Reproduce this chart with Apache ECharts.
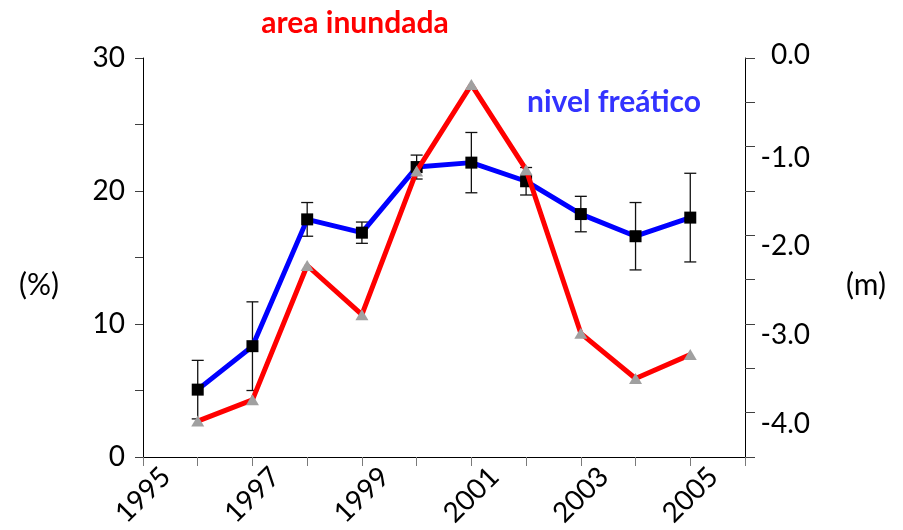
<!DOCTYPE html>
<html>
<head>
<meta charset="utf-8">
<script src="https://cdn.jsdelivr.net/npm/echarts@6/dist/echarts.min.js"></script>
<style>
  html, body { margin: 0; padding: 0; background: #fff; }
  #chart { width: 903px; height: 530px; }
</style>
</head>
<body>
<div id="chart"></div>
<script>
// Years sampled
const years = [1996, 1997, 1998, 1999, 2000, 2001, 2002, 2003, 2004, 2005];
// Flooded area (%), left axis
const areaInundada = [2.7, 4.3, 14.4, 10.7, 21.5, 28.0, 21.6, 9.3, 5.9, 7.7];
// Water table depth (m), right axis
const nivelFreatico = [-3.74, -3.25, -1.82, -1.97, -1.23, -1.18, -1.39, -1.76, -2.01, -1.80];
// Half-width of the error bars on the water table (m)
const nivelError = [0.33, 0.50, 0.19, 0.12, 0.135, 0.34, 0.155, 0.20, 0.38, 0.50];
// Tick labels
const yearLabels = [1995, 1997, 1999, 2001, 2003, 2005];
const pctLabels = [0, 10, 20, 30];
const depthLabels = [0, -1, -2, -3, -4];

const FONT = 'Lato';

const chart = echarts.init(document.getElementById('chart'), null, { renderer: 'canvas' });

const areaData = years.map((y, i) => [y, areaInundada[i]]);
const nivelData = years.map((y, i) => [y, nivelFreatico[i]]);
const errData = years.map((y, i) => [y, nivelFreatico[i] - nivelError[i], nivelFreatico[i] + nivelError[i]]);

chart.setOption({
  animation: false,
  backgroundColor: '#fff',
  grid: { left: 143, right: 158, top: 58, bottom: 70, containLabel: false },
  xAxis: {
    type: 'value', min: 1995, max: 2006, interval: 1,
    axisLine: { show: true, lineStyle: { color: '#000', width: 1 } },
    axisTick: { show: true, length: 9, lineStyle: { color: '#7a7a7a', width: 1 } },
    splitLine: { show: false },
    axisLabel: {
      rotate: 45, align: 'center', verticalAlign: 'middle', margin: 38,
      fontFamily: FONT, fontSize: 28, color: '#000',
      formatter: v => yearLabels.includes(v) ? String(v) : ''
    }
  },
  yAxis: [
    {
      type: 'value', min: 0, max: 30, interval: 5,
      axisLine: { show: true, lineStyle: { color: '#000', width: 1 } },
      axisTick: { show: true, length: 8, lineStyle: { color: '#404040', width: 1 } },
      splitLine: { show: false },
      axisLabel: {
        margin: 18, fontFamily: FONT, fontSize: 28, color: '#000',
        formatter: v => pctLabels.includes(v) ? String(v) : ''
      }
    },
    {
      type: 'value', min: -4.5, max: 0, interval: 0.5, position: 'right',
      axisLine: { show: true, lineStyle: { color: '#000', width: 1 } },
      axisTick: { show: true, length: 10, lineStyle: { color: '#404040', width: 1 } },
      splitLine: { show: false },
      axisLabel: {
        margin: 65, align: 'right', fontFamily: FONT, fontSize: 28, color: '#000',
        formatter: v => {
          if (!depthLabels.includes(v)) return '';
          const t = (v === 0 ? 0 : v).toFixed(1);
          return v === 0 ? '{z|' + t + '}' : '{d|' + t + '}';
        },
        rich: {
          z: { fontFamily: FONT, fontSize: 28, color: '#000', padding: [0, 0, 6, 0] },
          d: { fontFamily: FONT, fontSize: 28, color: '#000', padding: [22, 0, 0, 0] }
        }
      }
    }
  ],
  series: [
    {
      type: 'custom', yAxisIndex: 1, z: 1,
      data: errData,
      renderItem: (params, api) => {
        const top = api.coord([api.value(0), api.value(2)]);
        const bot = api.coord([api.value(0), api.value(1)]);
        const hw = 6;
        const st = { stroke: '#111', lineWidth: 1.3 };
        return {
          type: 'group',
          children: [
            { type: 'line', shape: { x1: top[0], y1: top[1], x2: bot[0], y2: bot[1] }, style: st },
            { type: 'line', shape: { x1: top[0] - hw, y1: top[1], x2: top[0] + hw, y2: top[1] }, style: st },
            { type: 'line', shape: { x1: bot[0] - hw, y1: bot[1], x2: bot[0] + hw, y2: bot[1] }, style: st }
          ]
        };
      }
    },
    {
      name: 'nivel freático', type: 'line', yAxisIndex: 1, z: 2,
      data: nivelData,
      lineStyle: { color: '#0000ff', width: 5 },
      symbol: 'rect', symbolSize: 12,
      itemStyle: { color: '#000' }
    },
    {
      name: 'area inundada', type: 'line', yAxisIndex: 0, z: 3,
      data: areaData,
      lineStyle: { color: '#ff0000', width: 5 },
      symbol: 'triangle', symbolSize: [13, 11],
      itemStyle: { color: '#a0a0a0' }
    }
  ],
  graphic: [
    { type: 'text', x: 355, y: 23, style: { text: 'area inundada', fontFamily: FONT, fontWeight: 'bold', fontSize: 30, fill: '#ff0000', align: 'center', verticalAlign: 'middle' } },
    { type: 'text', x: 614, y: 102, style: { text: 'nivel freático', fontFamily: FONT, fontWeight: 'bold', fontSize: 30, fill: '#3333ff', align: 'center', verticalAlign: 'middle' } },
    { type: 'text', x: 39, y: 285, style: { text: '(%)', fontFamily: FONT, fontSize: 30, fill: '#000', align: 'center', verticalAlign: 'middle' } },
    { type: 'text', x: 866, y: 285, style: { text: '(m)', fontFamily: FONT, fontSize: 30, fill: '#000', align: 'center', verticalAlign: 'middle' } }
  ]
});
</script>
</body>
</html>
